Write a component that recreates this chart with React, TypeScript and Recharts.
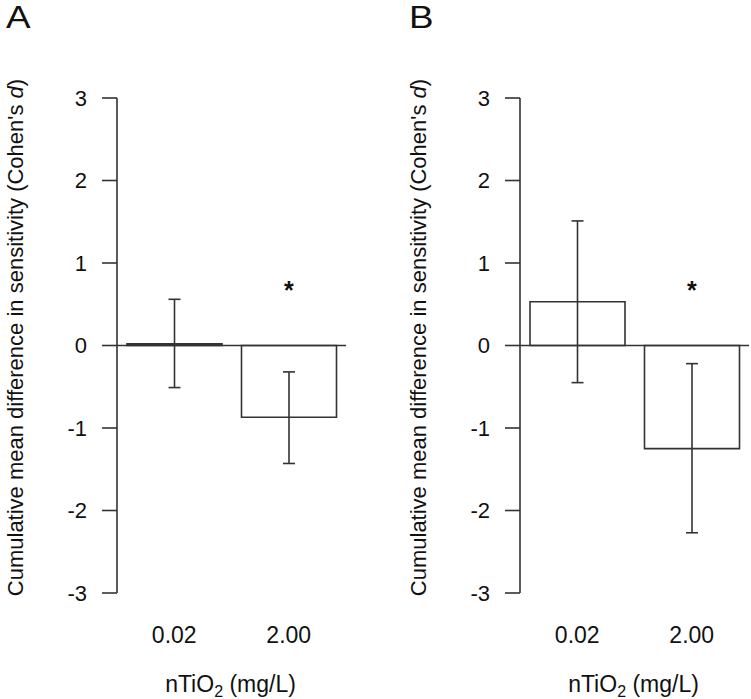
import React from 'react';
import { BarChart, Bar, XAxis, YAxis, ErrorBar, ReferenceLine, ReferenceDot } from 'recharts';

const categories = ['0.02', '2.00'];
const yTicks = [-3, -2, -1, 0, 1, 2, 3];

// panel A
const meansA = [0.02, -0.87];
const lowerA = [-0.51, -1.43];
const upperA = [0.56, -0.32];

// panel B
const meansB = [0.53, -1.25];
const lowerB = [-0.45, -2.27];
const upperB = [1.51, -0.22];

// significance marks (y position of the asterisk, null = none)
const starA = [null, 0.73];
const starB = [null, 0.73];

const INK = '#333';
const FONT = 'Liberation Sans, Arial, sans-serif';

const build = (means: number[], lower: number[], upper: number[]) =>
  categories.map((c, i) => ({
    dose: c,
    mean: means[i],
    err: [means[i] - lower[i], upper[i] - means[i]],
  }));

const YLabel = (props: any) => {
  const vb = props.viewBox;
  const cx = vb.x + 23;
  const cy = vb.y + vb.height / 2 - 8;
  return (
    <text
      x={cx}
      y={cy}
      transform={`rotate(-90, ${cx}, ${cy})`}
      textAnchor="middle"
      fontSize={22}
      fontFamily={FONT}
      fill="#111"
    >
      Cumulative mean difference in sensitivity (Cohen's <tspan fontStyle="italic">d</tspan>)
    </text>
  );
};

const XLabel = (props: any) => {
  const vb = props.viewBox;
  const cx = vb.x + vb.width / 2 - 1;
  return (
    <text x={cx} y={vb.y + 99} textAnchor="middle" fontSize={23} fontFamily={FONT} fill="#111">
      nTiO<tspan fontSize={16} dy={5}>2</tspan>
      <tspan dy={-5}> (mg/L)</tspan>
    </text>
  );
};

const Star = (props: any) => (
  <text
    x={props.cx}
    y={props.cy}
    dy="0.55em"
    textAnchor="middle"
    fontSize={25}
    fontWeight="bold"
    fontFamily={FONT}
    fill="#111"
  >
    *
  </text>
);

function Panel({ letter, means, lower, upper, stars, width, left }: any) {
  const data = build(means, lower, upper);
  return (
    <div style={{ position: 'absolute', left, top: 0 }}>
      <div
        style={{
          position: 'absolute',
          left: 6,
          top: 1,
          fontSize: 32,
          lineHeight: '32px',
          fontFamily: FONT,
          color: '#111',
          transform: 'scaleX(1.15)',
          transformOrigin: 'left top',
        }}
      >
        {letter}
      </div>
      <BarChart
        width={width}
        height={699}
        data={data}
        margin={{ top: 98, right: width - 346, left: 0, bottom: 0 }}
        barSize={95}
      >
        <XAxis
          dataKey="dose"
          axisLine={false}
          tickLine={false}
          tickSize={0}
          tickMargin={34}
          height={106}
          tick={{ fontSize: 23, fontFamily: FONT, fill: '#111' }}
          label={{ content: XLabel }}
        />
        <YAxis
          width={117}
          domain={[-3, 3]}
          ticks={yTicks}
          type="number"
          interval={0}
          allowDataOverflow
          axisLine={{ stroke: INK, strokeWidth: 1.6 }}
          tickLine={{ stroke: INK, strokeWidth: 1.6 }}
          tickSize={15}
          tickMargin={15}
          tick={{ fontSize: 22, fontFamily: FONT, fill: '#111' }}
          label={{ content: YLabel }}
        />
        <ReferenceLine y={0} stroke={INK} strokeWidth={1.6} />
        <Bar dataKey="mean" fill="#fff" stroke={INK} strokeWidth={1.6} isAnimationActive={false}>
          <ErrorBar dataKey="err" width={6} stroke={INK} strokeWidth={1.6} isAnimationActive={false} />
        </Bar>
        {categories.map((c, i) =>
          stars[i] == null ? null : (
            <ReferenceDot key={c} x={c} y={stars[i]} r={0} shape={Star} />
          )
        )}
      </BarChart>
    </div>
  );
}

export default function App() {
  return (
    <div style={{ position: 'absolute', left: 0, top: 0, width: 751, height: 699, background: '#fff' }}>
      <Panel letter="A" means={meansA} lower={lowerA} upper={upperA} stars={starA} width={375} left={0} />
      <Panel letter="B" means={meansB} lower={lowerB} upper={upperB} stars={starB} width={348} left={403} />
    </div>
  );
}
